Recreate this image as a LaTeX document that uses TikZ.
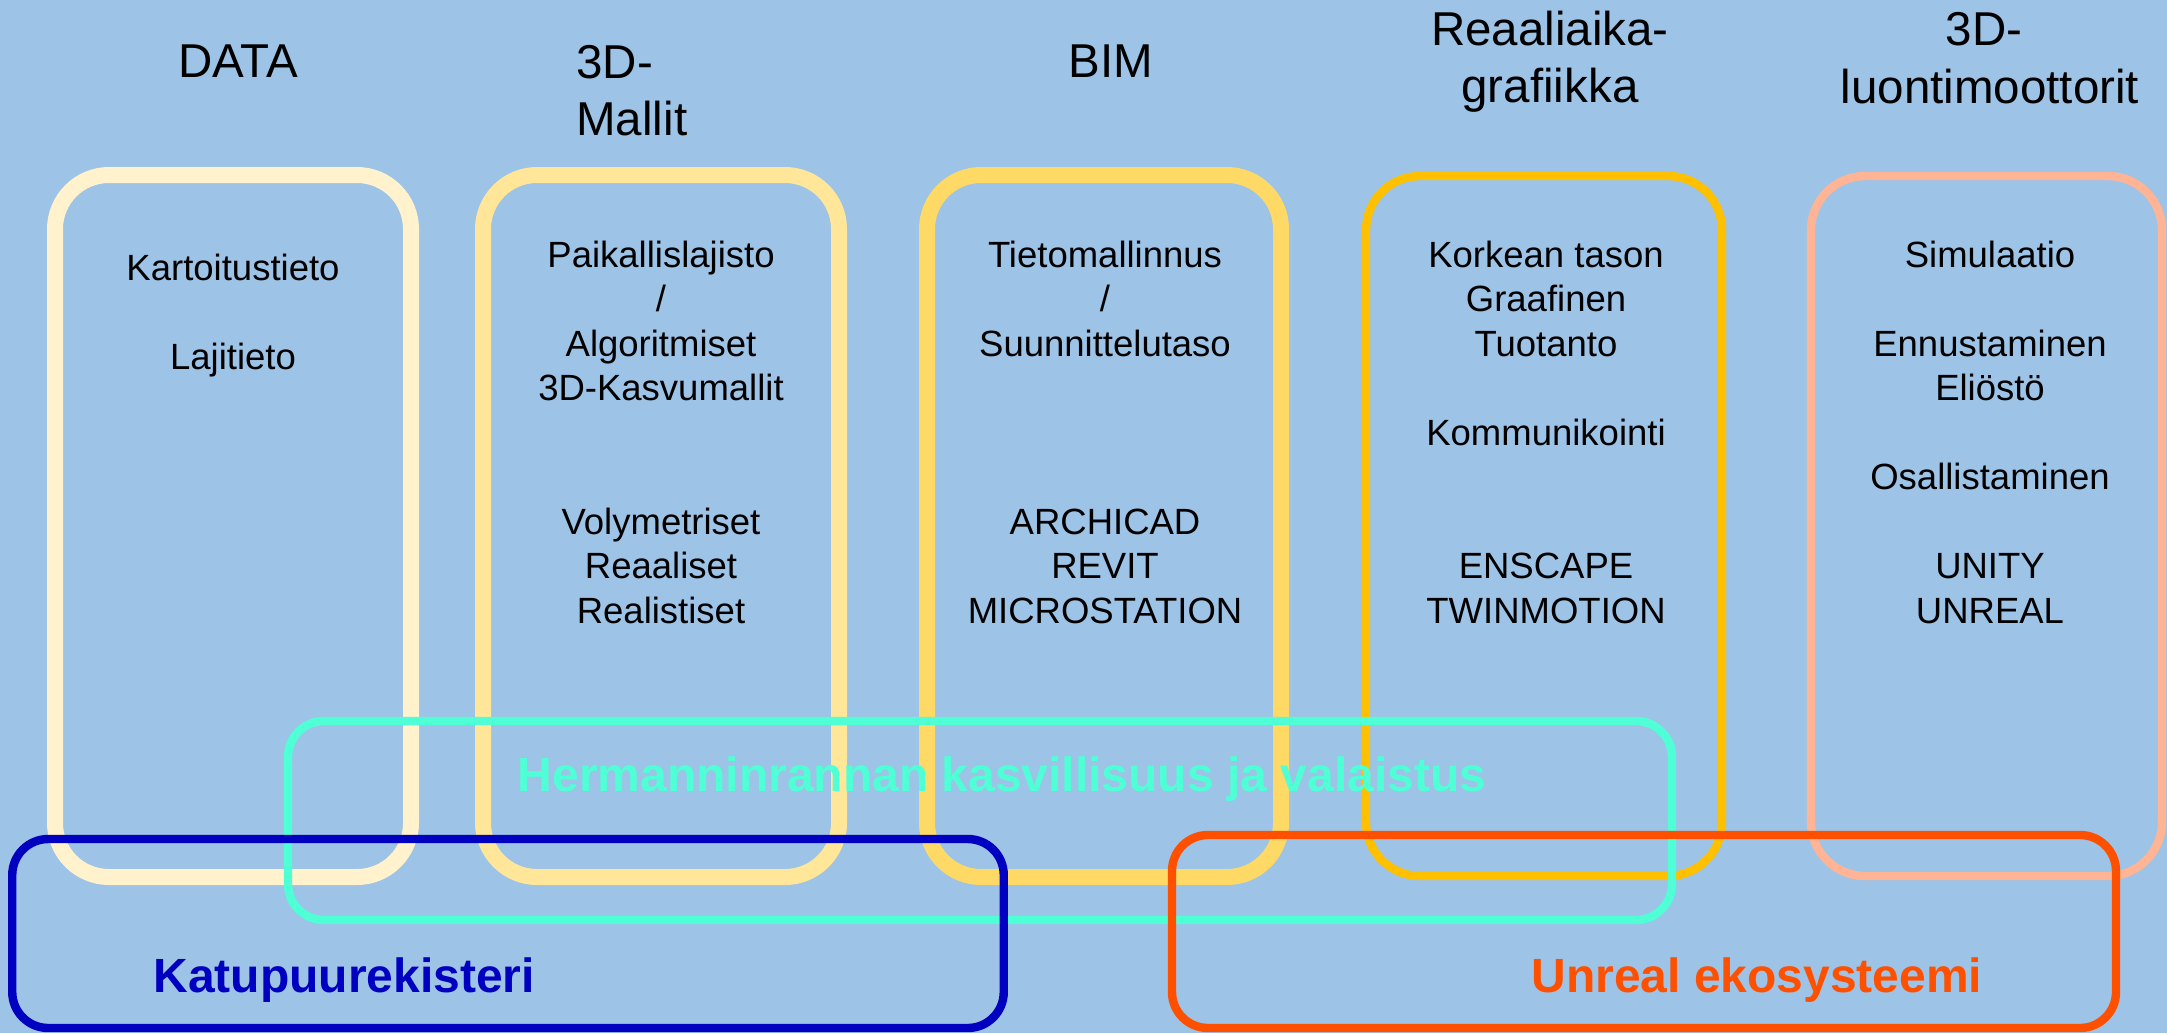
\documentclass[tikz,border=0pt]{standalone}
\usepackage{fontspec}
\setmainfont{Liberation Sans}
\definecolor{bg}{HTML}{9DC3E6}
\definecolor{cA}{HTML}{FFF2CC}
\definecolor{cB}{HTML}{FFE699}
\definecolor{cC}{HTML}{FFD966}
\definecolor{cD}{HTML}{FFC000}
\definecolor{cE}{HTML}{FFB496}
\definecolor{cyanline}{HTML}{4FFFD6}
\definecolor{blueline}{HTML}{0000C0}
\definecolor{orangeline}{HTML}{FF5000}
\begin{document}
\begin{tikzpicture}[x=0.5pt,y=-0.5pt,
  colbox/.style={draw=#1, rectangle, rounded corners=27pt, line width=8pt,
    minimum width=178pt, minimum height=351pt, inner sep=0pt},
  thinbox/.style={draw=#1, rectangle, rounded corners=27pt, line width=4.2pt,
    minimum width=178pt, minimum height=350pt, inner sep=0pt},
  ovbox/.style={draw=#1, rectangle, rounded corners=18pt, line width=4.2pt, inner sep=0pt},
  boxtext/.style={anchor=base, align=center, inner sep=0pt,
    font=\fontsize{18.25pt}{22.25pt}\selectfont},
  titletext/.style={anchor=base, inner sep=0pt,
    font=\fontsize{23.75pt}{28.5pt}\selectfont},
  biglabel/.style={anchor=base west, inner sep=0pt,
    font=\fontsize{24pt}{28pt}\selectfont\bfseries}]
\fill[bg] (0,0) rectangle (2167,1033);
\useasboundingbox (0,0) rectangle (2167,1033);

% titles (anchor base = last line's baseline)
\node[titletext] (tData) at (238,77) {DATA};
\node[titletext, anchor=base west, align=left] (tMallit) at (576,135) {3D-\\Mallit};
\node[titletext] (tBim) at (1111,77) {BIM};
\node[titletext, align=center] (tReal) at (1550,102) {Reaaliaika-\\grafiikka};
\node[titletext, align=center] (tLuonti) at (1990,103) {3D-\hspace*{6pt}\\luontimoottorit};

% column boxes
\node[colbox=cA] (bData) at (233,526) {};
\node[colbox=cB] (bMallit) at (661,526) {};
\node[colbox=cC, minimum width=177pt] (bBim) at (1104,526) {};
\node[thinbox=cD] (bReal) at (1544,526) {};
\node[thinbox=cE, minimum width=175.5pt] (bLuonti) at (1986.5,526) {};

% column texts
\node[boxtext] (xData) at (233,369) {Kartoitustieto\\ \\Lajitieto};
\node[boxtext] (xMallit) at (661,623) {Paikallislajisto\\/\\Algoritmiset\\3D-Kasvumallit\\ \\ \\Volymetriset\\Reaaliset\\Realistiset};
\node[boxtext] (xBim) at (1105,623) {Tietomallinnus\\/\\Suunnittelutaso\\ \\ \\ \\ARCHICAD\\REVIT\\MICROSTATION};
\node[boxtext] (xReal) at (1546,623) {Korkean tason\\Graafinen\\Tuotanto\\ \\Kommunikointi\\ \\ \\ENSCAPE\\TWINMOTION};
\node[boxtext] (xLuonti) at (1990,623) {Simulaatio\\ \\Ennustaminen\\Eliöstö\\ \\Osallistaminen\\ \\UNITY\\UNREAL};

% overlay boxes
\node[ovbox=cyanline, minimum width=692pt, minimum height=99.5pt] (bHerm) at (980,820.5) {};
\node[anchor=base, inner sep=0pt, text=cyanline, font=\fontsize{24pt}{28pt}\selectfont\bfseries] (lHerm) at (1002,791) {Hermanninrannan kasvillisuus ja valaistus};
\node[ovbox=blueline, minimum width=495.75pt, minimum height=94.5pt] (bKatu) at (508,933.5) {};
\node[ovbox=orangeline, minimum width=472pt, minimum height=96.5pt] (bUnreal) at (1644,931.5) {};
\node[biglabel, text=blueline] (lKatu) at (153,992) {Katupuurekisteri};
\node[biglabel, text=orangeline] (lUnreal) at (1531,992) {Unreal ekosysteemi};
\end{tikzpicture}
\end{document}
